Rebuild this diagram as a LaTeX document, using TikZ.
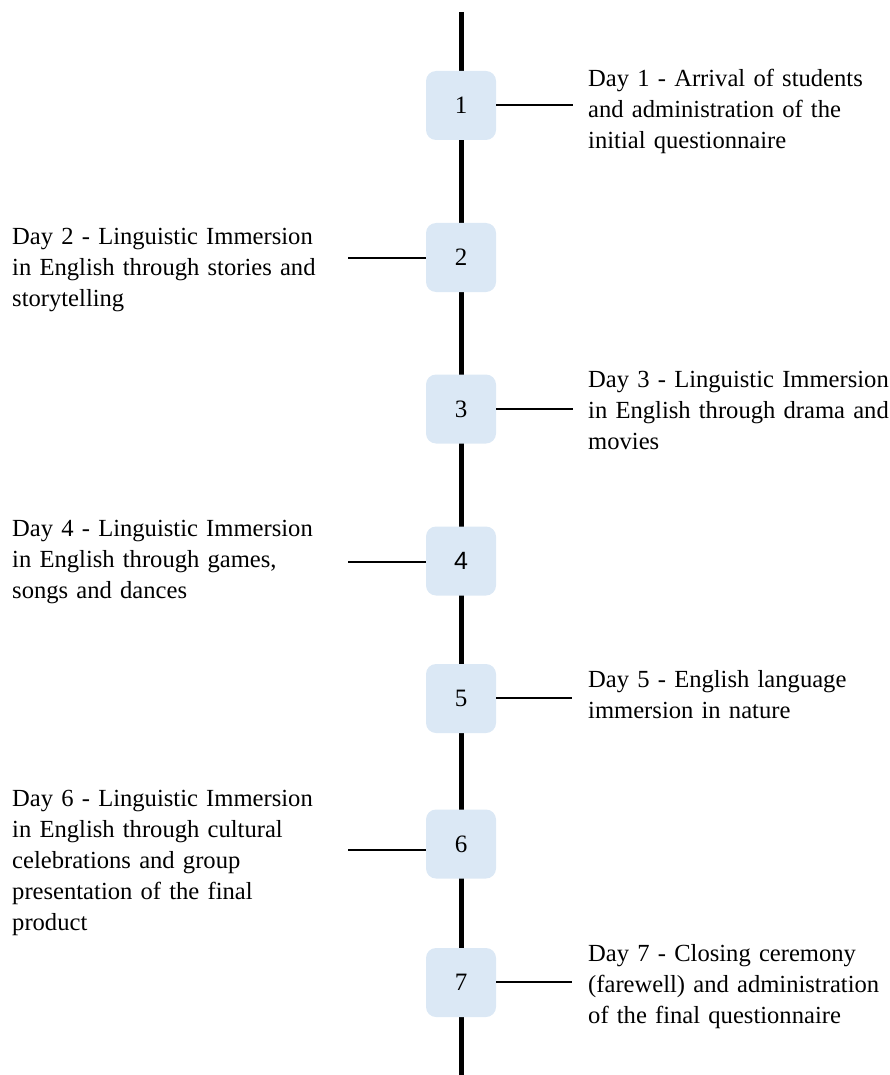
\documentclass[tikz,border=0pt]{standalone}
\usepackage{fontspec}
\setmainfont[WordSpace=0.85]{Liberation Serif}
\newfontfamily\numsans{Liberation Sans}
\definecolor{boxblue}{HTML}{DBE8F5}
\begin{document}
\begin{tikzpicture}[x=1pt,y=-1pt,
  daybox/.style={fill=boxblue,rounded corners=10pt,minimum width=70pt,minimum height=69pt,inner sep=0pt,font=\fontsize{25}{28}\selectfont},
  daytext/.style={anchor=base west,text width=330pt,align=left,inner sep=0pt,font=\fontsize{24.6}{31}\selectfont},
  conn/.style={line width=1.5pt,black},
  spine/.style={line width=5pt,black}]
\useasboundingbox (0,0) rectangle (890,1075);
\coordinate (top) at (461.5,12);
\coordinate (bottom) at (461.5,1075);
\draw[spine] (top) -- (bottom);
\node[daybox] (b1) at (461,105.5) {1};
\node[daybox] (b2) at (461,257.5) {2};
\node[daybox] (b3) at (461,409) {3};
\node[daybox] (b4) at (461,561) {\numsans 4};
\node[daybox] (b5) at (461,698.5) {5};
\node[daybox] (b6) at (461,844) {6};
\node[daybox] (b7) at (461,982.5) {7};
% connector free ends
\coordinate (e1) at (573,105);
\coordinate (e2) at (348,258);
\coordinate (e3) at (573,409);
\coordinate (e4) at (348,562);
\coordinate (e5) at (572,698);
\coordinate (e6) at (348,850);
\coordinate (e7) at (572,982);
\draw[conn] (e1 -| b1.east) -- (e1);
\draw[conn] (e2) -- (e2 -| b2.west);
\draw[conn] (e3 -| b3.east) -- (e3);
\draw[conn] (e4) -- (e4 -| b4.west);
\draw[conn] (e5 -| b5.east) -- (e5);
\draw[conn] (e6) -- (e6 -| b6.west);
\draw[conn] (e7 -| b7.east) -- (e7);
% texts
\node[daytext] (t1) at (588,87) {Day 1 - Arrival of students\\and administration of the\\initial questionnaire};
\node[daytext] (t2) at (12,244) {Day 2 - Linguistic Immersion\\in English through stories and\\storytelling};
\node[daytext] (t3) at (588,387) {Day 3 - Linguistic Immersion\\in English through drama and\\movies};
\node[daytext] (t4) at (12,536) {Day 4 - Linguistic Immersion\\in English through games,\\songs and dances};
\node[daytext] (t5) at (588,687) {Day 5 - English language\\immersion in nature};
\node[daytext] (t6) at (12,806) {Day 6 - Linguistic Immersion\\in English through cultural\\celebrations and group\\presentation of the final\\product};
\node[daytext] (t7) at (588,961) {Day 7 - Closing ceremony\\(farewell) and administration\\of the final questionnaire};
\end{tikzpicture}
\end{document}
